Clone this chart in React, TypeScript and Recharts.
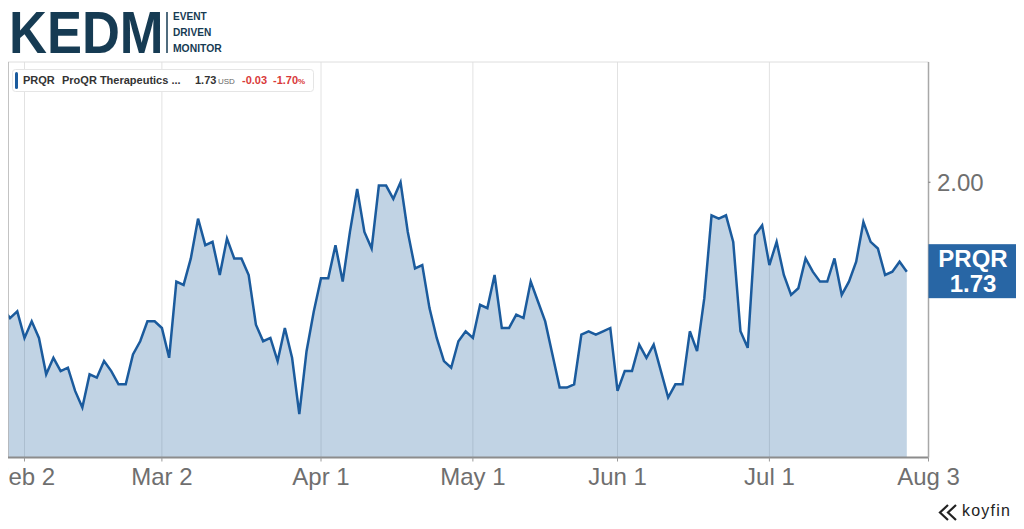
import React from 'react'
import { Area, AreaChart, CartesianGrid, ReferenceDot, ReferenceLine, XAxis, YAxis } from 'recharts'

const ticker = 'PRQR'
const company = 'ProQR Therapeutics ...'
const change = '-0.03'
const changePct = '-1.70'

// daily closes, trading day index starting at -1 (Jan 28)
const firstDay = -1
const closes = [
    1.62, 1.59, 1.61, 1.53, 1.58, 1.53, 1.42, 1.47, 1.43, 1.44, 1.37, 1.32, 1.42, 1.41, 1.46, 1.43,
    1.39, 1.39, 1.48, 1.52, 1.58, 1.58, 1.56, 1.47, 1.7, 1.69, 1.77, 1.89, 1.81, 1.82, 1.72, 1.83,
    1.77, 1.77, 1.72, 1.57, 1.52, 1.53, 1.46, 1.56, 1.47, 1.3, 1.49, 1.61, 1.71, 1.71, 1.81, 1.7,
    1.85, 1.98, 1.85, 1.8, 1.99, 1.99, 1.95, 2.0, 1.85, 1.74, 1.75, 1.62, 1.53, 1.46, 1.44, 1.52,
    1.55, 1.53, 1.63, 1.62, 1.72, 1.56, 1.56, 1.6, 1.59, 1.7, 1.64, 1.58, 1.48, 1.38, 1.38, 1.39,
    1.54, 1.55, 1.54, 1.55, 1.56, 1.37, 1.43, 1.43, 1.51, 1.47, 1.51, 1.43, 1.35, 1.39, 1.39, 1.55,
    1.49, 1.65, 1.9, 1.89, 1.9, 1.82, 1.55, 1.5, 1.84, 1.87, 1.75, 1.82, 1.72, 1.66, 1.68, 1.77,
    1.73, 1.7, 1.7, 1.77, 1.66, 1.7, 1.76, 1.88, 1.82, 1.8, 1.72, 1.73, 1.76, 1.73,
]

const tickDays = [2, 21, 43, 64, 84, 105, 127]
const tickLabels = ['Feb 2', 'Mar 2', 'Apr 1', 'May 1', 'Jun 1', 'Jul 1', 'Aug 3']
const priceTicks = [2.0]

const xDomain = [-0.28, 127]
const yDomain = [1.169, 2.363]

const lastPrice = closes[closes.length - 1]
const data = closes.map((close, i) => ({ day: i + firstDay, close }))

const blue = '#1b5b9d'
const navy = '#163b53'
const font = '"Liberation Sans", Arial, sans-serif'

const DateTick = ({ x, y, payload }: any) => (
    <text x={x} y={y} dy={23.5} textAnchor="middle" fontSize={24} fill="#6f6f6f" fontFamily={font}>
        {tickLabels[tickDays.indexOf(payload.value)]}
    </text>
)

const PriceTick = ({ x, y, payload }: any) => (
    <text x={x + 6.5} y={y} dy="0.36em" textAnchor="start" fontSize={24} fill="#6f6f6f" fontFamily={font}>
        {payload.value.toFixed(2)}
    </text>
)

const PriceTag = ({ cx, cy }: any) => (
    <g>
        <rect x={cx} y={cy - 27.5} width={89} height={54} fill="#2866a5" />
        <text x={cx + 44.5} y={cy - 4.5} textAnchor="middle" fontSize={24} fontWeight="bold" fill="#fff" fontFamily={font}>
            {ticker}
        </text>
        <text x={cx + 44.5} y={cy + 20.5} textAnchor="middle" fontSize={24} fontWeight="bold" fill="#fff" fontFamily={font}>
            {lastPrice.toFixed(2)}
        </text>
    </g>
)

export default function App() {
    return (
        <div style={{ position: 'relative', width: 1016, height: 513, fontFamily: font }}>
            <AreaChart width={1016} height={513} data={data} margin={{ top: 54, right: 5.5, bottom: 23.5, left: 0 }}>
                <CartesianGrid horizontal={false} stroke="#e2e2e2" />
                <XAxis
                    dataKey="day"
                    type="number"
                    domain={xDomain}
                    allowDataOverflow
                    ticks={tickDays}
                    interval={0}
                    height={40}
                    tickSize={4}
                    tickMargin={0}
                    axisLine={{ stroke: '#8c8c8c', strokeWidth: 2 }}
                    tickLine={{ stroke: '#9a9a9a' }}
                    tick={<DateTick />}
                />
                <YAxis
                    orientation="right"
                    type="number"
                    domain={yDomain}
                    allowDataOverflow
                    ticks={priceTicks}
                    width={90}
                    tickSize={2}
                    tickMargin={0}
                    axisLine={{ stroke: '#a8a8a8', strokeWidth: 1.5 }}
                    tickLine={{ stroke: '#777' }}
                    tick={<PriceTick />}
                />
                <ReferenceLine y={yDomain[1]} stroke="#dedede" />
                <ReferenceLine x={xDomain[0]} stroke="#b5b5b5" strokeWidth={1.5} />
                <Area
                    type="linear"
                    dataKey="close"
                    stroke={blue}
                    strokeWidth={2.5}
                    fill={blue}
                    fillOpacity={0.27}
                    dot={false}
                    activeDot={false}
                    isAnimationActive={false}
                />
                <ReferenceDot x={xDomain[1]} y={lastPrice} shape={<PriceTag />} />
            </AreaChart>

            <svg width={1016} height={513} style={{ position: 'absolute', left: 0, top: 0, pointerEvents: 'none' }}>
                <text transform="translate(1 45) scale(0.875 1)" fontSize={60} fontWeight="bold" fill={navy} fontFamily={font}>
                    KEDM
                </text>
                <line x1={159} y1={4} x2={159} y2={45} stroke={navy} strokeWidth={1.5} />
                <g fontSize={11.5} fontWeight="bold" fill={navy} fontFamily={font}>
                    <text transform="translate(165 12) scale(0.88 1)">EVENT</text>
                    <text transform="translate(165 28) scale(0.88 1)">DRIVEN</text>
                    <text transform="translate(165 44) scale(0.9 1)">MONITOR</text>
                </g>

                <rect x={4.5} y={61.5} width={301} height={22} rx={3} fill="#fff" stroke="#e5e5e5" />
                <rect x={7} y={64} width={3} height={17} rx={1.5} fill={blue} />
                <g fontSize={11} fontWeight="bold" fontFamily={font} fill="#333">
                    <text x={15} y={76}>{ticker}</text>
                    <text x={54} y={76}>{company}</text>
                    <text x={187} y={76}>{lastPrice.toFixed(2)}</text>
                    <text x={210} y={76} fontSize={8} fontWeight="normal" fill="#666">USD</text>
                    <text x={234} y={76} fill="#d93a3a">{change}</text>
                    <text x={265} y={76} fill="#d93a3a">
                        {changePct}
                        <tspan fontSize={8}>%</tspan>
                    </text>
                </g>

                <g fill="none" stroke="#222" strokeWidth={2.2} strokeLinejoin="miter">
                    <polyline points="940,497 932,504.5 940,512" />
                    <polyline points="948,497 940,504.5 948,512" />
                </g>
                <text x={954} y={508} fontSize={16} letterSpacing={1.2} fill="#222" fontFamily={font}>
                    koyfin
                </text>
            </svg>
        </div>
    )
}
